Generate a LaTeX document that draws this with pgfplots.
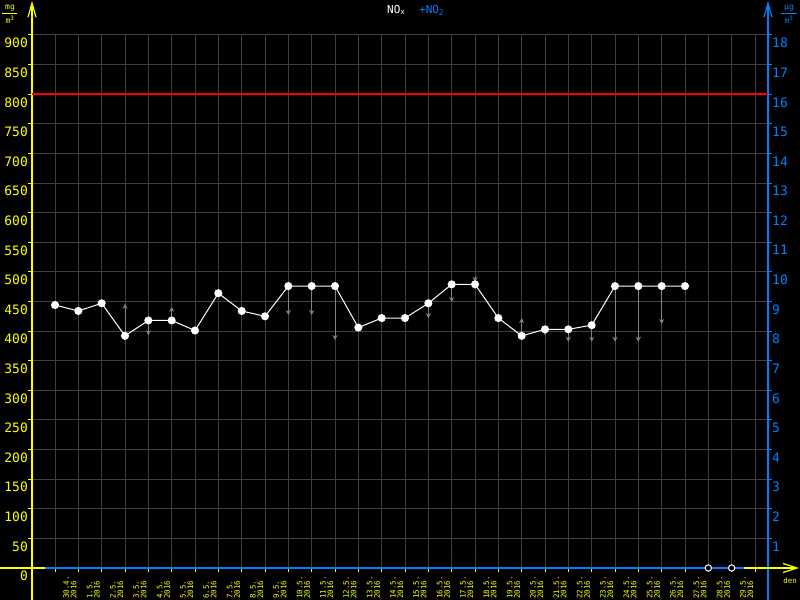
\documentclass[border=0pt]{standalone}
\usepackage{pgfplots}
\pgfplotsset{compat=1.18}
\usepackage{pgfplotstable}
\usepackage{fontspec}
\setmainfont{DejaVu Sans Mono}
\usetikzlibrary{arrows.meta}
\definecolor{yel}{RGB}{255,255,0}
\definecolor{blu}{RGB}{0,128,255}
\definecolor{gridc}{RGB}{64,64,64}
\definecolor{arr}{RGB}{130,130,130}
\pgfplotstableread{
x y
0 444
1 434
2 447
3 392
4 418
5 418
6 401
7 464
8 434
9 425
10 476
11 476
12 476
13 406
14 422
15 422
16 447
17 479
18 479
19 422
20 392
21 403
22 403
23 410
24 476
25 476
26 476
27 476
}\noxdata
\pgfplotstableread{
x y dv
3 392 54
4 418 -25
5 418 23
9 425 6
10 476 -49
11 476 -49
12 476 -91
16 447 -25
17 479 -30
18 493 -10
20 392 30
21 403 -10
22 403 -21
23 410 -28
24 476 -94
25 476 -94
26 476 -64
}\arrdata
\begin{document}
\begin{tikzpicture}[x=1bp,y=1bp]
\useasboundingbox (0,0) rectangle (800,600);
\fill[black] (0,0) rectangle (800,600);
\begin{axis}[
 at={(32bp,32bp)}, anchor=south west, scale only axis, width=736bp, height=533bp,
 xmin=-0.986, xmax=30.557, ymin=0, ymax=900,
 axis line style={draw=none},
 xtick={0,...,30}, ytick={0,50,...,900},
 xticklabels={{30.4.\\2016},{1.5.\\2016},{2.5.\\2016},{3.5.\\2016},{4.5.\\2016},{5.5.\\2016},{6.5.\\2016},{7.5.\\2016},{8.5.\\2016},{9.5.\\2016},{10.5.\\2016},{11.5.\\2016},{12.5.\\2016},{13.5.\\2016},{14.5.\\2016},{15.5.\\2016},{16.5.\\2016},{17.5.\\2016},{18.5.\\2016},{19.5.\\2016},{20.5.\\2016},{21.5.\\2016},{22.5.\\2016},{23.5.\\2016},{24.5.\\2016},{25.5.\\2016},{26.5.\\2016},{27.5.\\2016},{28.5.\\2016},{29.5.\\2016},{}},
 grid=major, grid style={gridc, line width=1bp},
 tick align=outside, major tick length=4bp,
 xtick pos=bottom, ytick pos=left,
 x tick style={yel, line width=1bp},
 y tick style={yel, line width=1bp},
 /pgf/number format/assume math mode=true,
 yticklabel style={font=\fontsize{13}{13}\selectfont, text=yel, anchor=north east, inner sep=0pt, yshift=-3bp},
 xticklabel style={font=\fontsize{7.5}{7.5}\selectfont, text=yel, align=left, xshift=15bp, yshift=-27bp, rotate=90, anchor=west, inner sep=0pt},
 clip=false,
]
% axis lines
\draw[yel, line width=1.2bp, -{Straight Barb[length=14bp,width=8bp]}] (rel axis cs:0,-0.0601) -- (rel axis cs:0,1.0638);
\draw[blu, line width=1.2bp, -{Straight Barb[length=14bp,width=8bp]}] (rel axis cs:1,-0.0601) -- (rel axis cs:1,1.0638);
\draw[yel, line width=1.2bp] (rel axis cs:-0.0435,0) -- (rel axis cs:0.01766,0);
\draw[blu, line width=1.5bp] (rel axis cs:0.01766,0) -- (rel axis cs:0.96739,0);
\draw[yel, line width=1.2bp, -{Straight Barb[length=14bp,width=9bp]}] (rel axis cs:0.96739,0) -- (rel axis cs:1.0421,0);
% limit
\addplot[red, line width=2bp] coordinates {(-0.986,800) (30.557,800)};
% arrows
\addplot[arr, line width=1bp, -{Stealth[length=5bp,width=5bp]}, quiver={u=0, v=\thisrow{dv}}] table[x=x, y=y] {\arrdata};
% main series
\addplot[white, line width=1bp, mark=*, mark size=3.5bp, mark options={fill=white}] table[x=x, y=y] {\noxdata};
% missing days
\addplot[only marks, white, line width=1bp, mark=*, mark size=3.2bp, mark options={fill=black, draw=white}] coordinates {(28,0) (29,0)};
\end{axis}
\begin{axis}[
 at={(32bp,32bp)}, anchor=south west, scale only axis, width=736bp, height=533bp,
 xmin=-0.986, xmax=30.557, ymin=0, ymax=18,
 hide x axis, axis y line*=right, axis line style={draw=none},
 ytick={1,...,18},
 tick align=outside, major tick length=4bp,
 y tick style={blu, line width=1bp},
 /pgf/number format/assume math mode=true,
 yticklabel style={font=\fontsize{13}{13}\selectfont, text=blu, anchor=north west, inner sep=0pt, yshift=-3bp},
]
\end{axis}
% titles and units
\node[white, anchor=west, inner sep=0pt, font=\fontsize{11}{11}\selectfont] at (387,590) {NO\textsubscript{x}};
\node[blu, anchor=west, inner sep=0pt, font=\fontsize{11}{11}\selectfont] at (419,590) {+NO\textsubscript{2}};
\node[yel, inner sep=0pt, font=\fontsize{8}{8}\selectfont] at (10,592) {mg};
\draw[yel, line width=1bp] (2,586.5) -- (17,586.5);
\node[yel, inner sep=0pt, font=\fontsize{8}{8}\selectfont] at (10,580) {m\textsuperscript{3}};
\node[blu, inner sep=0pt, font=\fontsize{8}{8}\selectfont] at (789,592) {µg};
\draw[blu, line width=1bp] (781,586.5) -- (797,586.5);
\node[blu, inner sep=0pt, font=\fontsize{8}{8}\selectfont] at (789,580) {m\textsuperscript{3}};
\node[yel, inner sep=0pt, font=\fontsize{7.5}{7.5}\selectfont] at (790,19) {den};
\end{tikzpicture}
\end{document}
